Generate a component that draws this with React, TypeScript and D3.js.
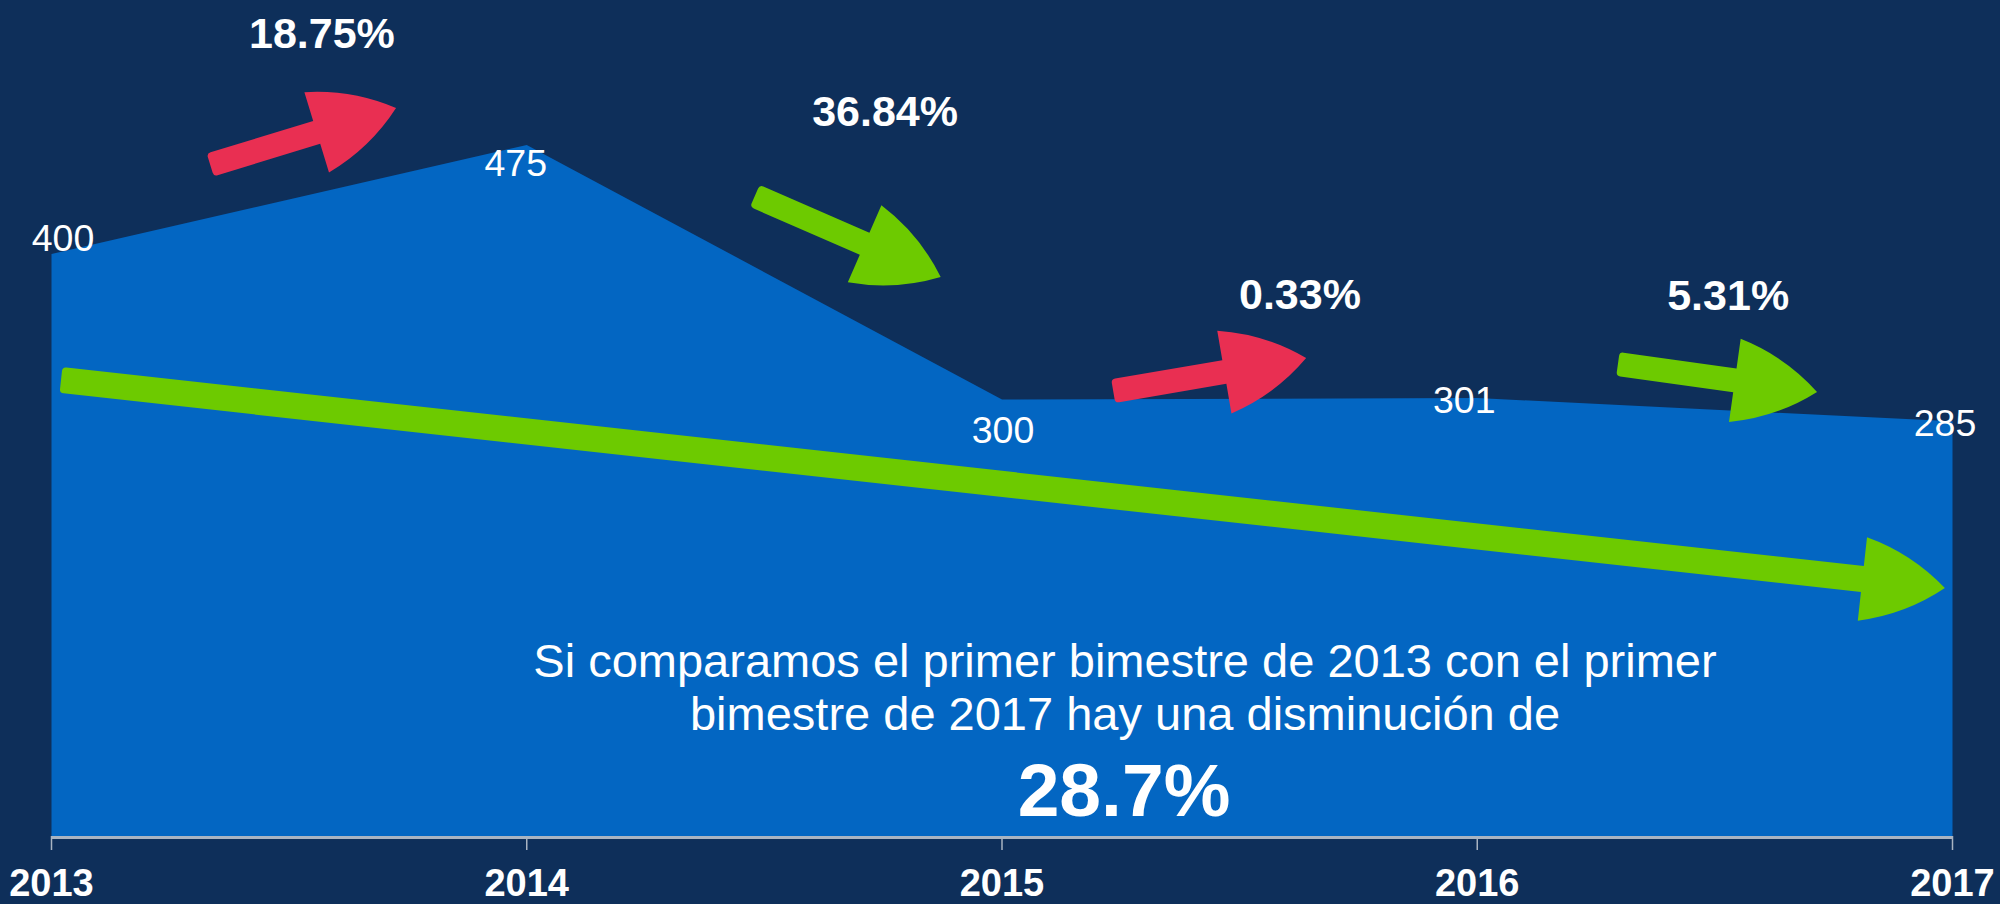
import React from "react";
import * as d3 from "d3";

// ---- data ----
const years = [2013, 2014, 2015, 2016, 2017];
const values = [400, 475, 300, 301, 285];
const yearLabels = ["2013", "2014", "2015", "2016", "2017"];

// percentage change annotations (text, year position, value position)
const changeLabels = ["18.75%", "36.84%", "0.33%", "5.31%"];
const changeLabelYears = [2013.569, 2014.754, 2015.627, 2016.528];
const changeLabelValues = [541.6, 488.0, 362.2, 361.5];

// arrows in data space
const arrowTailYears = [2013.334, 2014.48, 2015.234, 2016.296, 2013.02];
const arrowTailValues = [461.2, 439.9, 305.8, 324.4, 313.4];
const arrowTipYears = [2013.725, 2014.871, 2015.64, 2016.715, 2016.984];
const arrowTipValues = [500.3, 384.2, 328.5, 305.2, 170.4];
const arrowKinds = ["up", "down", "up", "down", "down"];
const arrowBig = [false, false, false, false, true];

const summaryLines = [
  "Si comparamos el primer bimestre de 2013 con el primer",
  "bimestre de 2017 hay una disminución de",
];
const summaryValue = "28.7%";

// ---- styles ----
const W = 2000;
const H = 904;
const BG = "#0e2f5a";
const AREA = "#0366c2";
const GREEN = "#6dca00";
const RED = "#e92f52";
const FONT = "'Liberation Sans', Arial, sans-serif";

const valueLabelDx = [11.5, -11, 1, -13, -7.5];
const valueLabelDy = [-3, 31, 43.5, 15, 15];

function arrowPath(tx: number, ty: number, px: number, py: number, w: number) {
  const L = 83;
  const Hh = 42;
  const r = 4;
  const dx = px - tx;
  const dy = py - ty;
  const len = Math.hypot(dx, dy);
  const ux = dx / len;
  const uy = dy / len;
  const nx = -uy;
  const ny = ux;
  const bx = px - ux * L;
  const by = py - uy * L;
  const pt = (x: number, y: number) => `${x.toFixed(2)},${y.toFixed(2)}`;
  const ctrl = (ax: number, ay: number, sign: number) => {
    const mx = (ax + px) / 2;
    const my = (ay + py) / 2;
    let cx = -(py - ay);
    let cy = px - ax;
    const cl = Math.hypot(cx, cy);
    cx /= cl;
    cy /= cl;
    if ((cx * nx + cy * ny) * sign < 0) {
      cx = -cx;
      cy = -cy;
    }
    return pt(mx + cx * 11, my + cy * 11);
  };
  const h1x = bx + nx * Hh, h1y = by + ny * Hh;
  const h2x = bx - nx * Hh, h2y = by - ny * Hh;
  return [
    `M${pt(tx + nx * w + ux * r, ty + ny * w + uy * r)}`,
    `L${pt(bx + nx * w, by + ny * w)}`,
    `L${pt(h1x, h1y)}`,
    `Q${ctrl(h1x, h1y, 1)} ${pt(px, py)}`,
    `Q${ctrl(h2x, h2y, -1)} ${pt(h2x, h2y)}`,
    `L${pt(bx - nx * w, by - ny * w)}`,
    `L${pt(tx - nx * w + ux * r, ty - ny * w + uy * r)}`,
    `Q${pt(tx - nx * w, ty - ny * w)} ${pt(tx - nx * (w - r), ty - ny * (w - r))}`,
    `L${pt(tx + nx * (w - r), ty + ny * (w - r))}`,
    `Q${pt(tx + nx * w, ty + ny * w)} ${pt(tx + nx * w + ux * r, ty + ny * w + uy * r)}`,
    "Z",
  ].join(" ");
}

export default function App() {
  const x = d3.scaleLinear().domain([2013, 2017]).range([51.5, 1952.5]);
  const y = d3.scaleLinear().domain([0, 400]).range([836, 254]);
  const baseY = y(0);

  const pts = years.map((yr, i) => ({ yr, v: values[i] }));
  const area = d3
    .area<{ yr: number; v: number }>()
    .x((d) => x(d.yr))
    .y0(baseY)
    .y1((d) => y(d.v))(pts) as string;

  return (
    <svg
      width={W}
      height={H}
      style={{ position: "fixed", left: 0, top: 0, display: "block" }}
      fontFamily={FONT}
    >
      <rect x={0} y={0} width={W} height={H} fill={BG} />
      <path d={area} fill={AREA} />

      {/* axis */}
      <line x1={x(2013)} x2={x(2017)} y1={baseY + 1.5} y2={baseY + 1.5} stroke="#a9b4c2" strokeWidth={3} />
      {years.map((yr) => (
        <line key={yr} x1={x(yr)} x2={x(yr)} y1={baseY} y2={baseY + 14} stroke="#a9b4c2" strokeWidth={1.5} />
      ))}
      {years.map((yr, i) => (
        <text key={"t" + yr} x={x(yr)} y={896} fill="#fff" fontSize={38} fontWeight="bold" textAnchor="middle">
          {yearLabels[i]}
        </text>
      ))}

      {/* arrows */}
      {arrowKinds.map((k, i) => (
        <path
          key={"a" + i}
          d={arrowPath(
            x(arrowTailYears[i]),
            y(arrowTailValues[i]),
            x(arrowTipYears[i]),
            y(arrowTipValues[i]),
            arrowBig[i] ? 13 : 12
          )}
          fill={k === "up" ? RED : GREEN}
        />
      ))}

      {/* value labels */}
      {values.map((v, i) => (
        <text
          key={"v" + i}
          x={x(years[i]) + valueLabelDx[i]}
          y={y(v) + valueLabelDy[i]}
          fill="#fff"
          fontSize={37.5}
          textAnchor="middle"
        >
          {String(v)}
        </text>
      ))}

      {/* change labels */}
      {changeLabels.map((t, i) => (
        <text
          key={"c" + i}
          x={x(changeLabelYears[i])}
          y={y(changeLabelValues[i])}
          fill="#fff"
          fontSize={43}
          fontWeight="bold"
          textAnchor="middle"
        >
          {t}
        </text>
      ))}

      {/* summary */}
      {summaryLines.map((t, i) => (
        <text key={"s" + i} x={1125} y={677 + i * 53} fill="#fff" fontSize={47} textAnchor="middle">
          {t}
        </text>
      ))}
      <text x={1124} y={816} fill="#fff" fontSize={75} fontWeight="bold" textAnchor="middle">
        {summaryValue}
      </text>
    </svg>
  );
}
